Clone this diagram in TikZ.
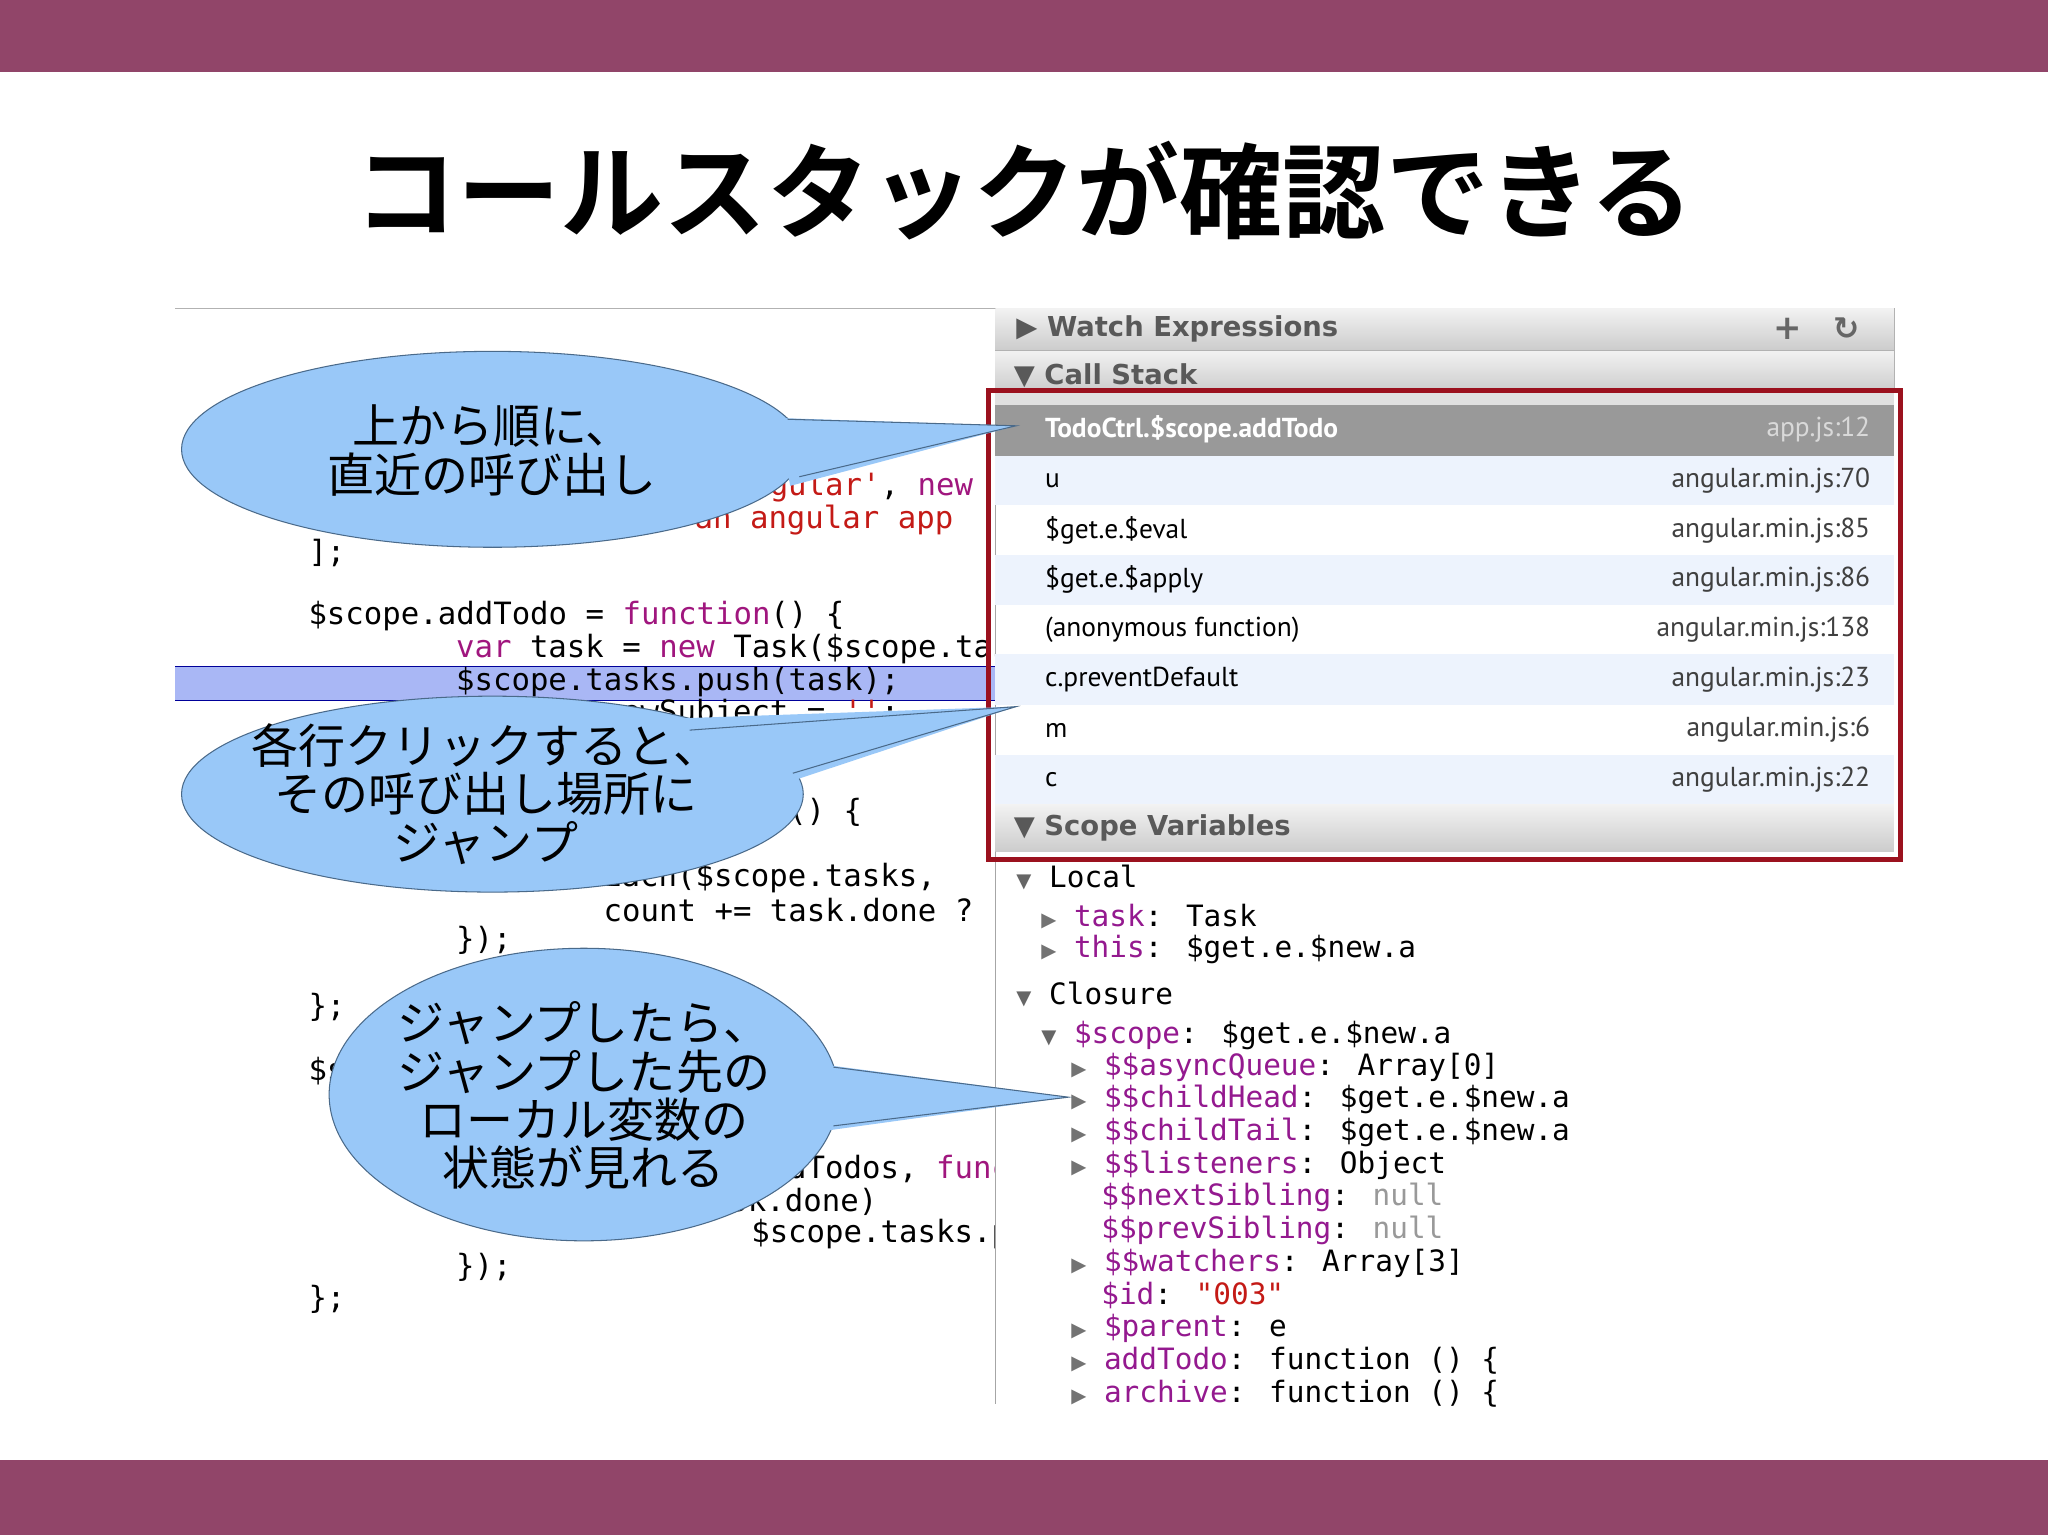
\documentclass[tikz,border=0pt]{standalone}
\usepackage{fontspec}
\newfontfamily\jpb{Noto Sans CJK JP Bold}
\newfontfamily\jp{Noto Sans CJK JP}
\newfontfamily\mono{DejaVu Sans Mono}
\newfontfamily\dsans{DejaVu Sans}
\newfontfamily\ptsans{PT Sans}
\newcommand\trifnt{\dsans\fontsize{15}{15}\selectfont}
\definecolor{bar}{HTML}{914569}
\definecolor{bub}{HTML}{99C8F8}
\definecolor{bubl}{HTML}{4A6A8A}
\definecolor{kw}{HTML}{A0167E}
\definecolor{str}{HTML}{C41A16}
\definecolor{key}{HTML}{94198F}
\definecolor{redbox}{HTML}{9B111E}
\definecolor{rowb}{HTML}{EDF3FD}
\definecolor{hl}{HTML}{A9B7F5}
\tikzset{
 code/.style={anchor=west,font=\mono\fontsize{23.5}{24}\selectfont,inner sep=0pt},
 stk/.style={anchor=west,font=\ptsans\fontsize{21}{24}\selectfont,inner sep=0pt},
 stkr/.style={anchor=east,font=\ptsans\fontsize{21}{24}\selectfont,inner sep=0pt,text=black!75},
 hdr/.style={anchor=west,font=\dsans\bfseries\fontsize{21}{24}\selectfont,inner sep=0pt,text=black!65},
 tree/.style={anchor=west,font=\mono\fontsize{22.5}{24}\selectfont,inner sep=0pt},
 bubtxt/.style={font=\jp\fontsize{36}{37}\selectfont,align=center,inner sep=0pt},
 bubble/.style={fill=bub,draw=bubl,line width=0.8pt},
}
\begin{document}
\begin{tikzpicture}[x=1pt,y=-1pt]
\useasboundingbox (0,0) rectangle (1568,1175);
\fill[white] (0,0) rectangle (1568,1175);
\fill[bar] (0,0) rectangle (1568,55);
\fill[bar] (0,1118) rectangle (1568,1175);
\node[font=\jpb\fontsize{79}{79}\selectfont] (title) at (784,146) {コールスタックが確認できる};

% code panel
\draw[black!30,line width=1pt] (134,236) -- (762,236);
\begin{scope}
\clip (134,237) rectangle (762,1075);
\fill[hl] (134,510) rectangle (762,536);
\draw[blue!60!black,line width=0.8pt] (134,510) -- (762,510) (134,536) -- (762,536);
\node[code] (c1) at (575,373) {\textcolor{str}{ngular'}, \textcolor{kw}{new}};
\node[code] (c2) at (475,398) {\textcolor{str}{ild an angular app}};
\node[code] (c3) at (236,423) {];};
\node[code] (c4) at (236,472) {\$scope.addTodo = \textcolor{kw}{function}() \{};
\node[code] (c5) at (349,497) {\textcolor{kw}{var} task = \textcolor{kw}{new} Task(\$scope.task};
\node[code] (c6) at (349,522) {\$scope.tasks.push(task);};
\node[code] (c7) at (462,547) {newSubject = \textcolor{str}{''};};
\node[code] (c8) at (575,622) {\textcolor{kw}{on}() \{};
\node[code] (c9) at (405,672) {.forEach(\$scope.tasks, };
\node[code] (c10) at (462,697) {count += task.done ? \textcolor{kw}{1}};
\node[code] (c11) at (349,720) {\});};
\node[code] (c12) at (236,771) {\};};
\node[code] (c13) at (236,821) {\$scope};
\node[code] (c14) at (575,895) {oldTodos, \textcolor{kw}{func}};
\node[code] (c15) at (530,920) {task.done)};
\node[code] (c16) at (575,945) {\$scope.tasks.push};
\node[code] (c17) at (349,970) {\});};
\node[code] (c18) at (236,995) {\};};
\end{scope}
\draw[black!35,line width=1pt] (762,236) -- (762,1075);

% devtools headers
\shade[top color=black!5,bottom color=black!20] (762,236) rectangle (1450,268);
\shade[top color=black!5,bottom color=black!20] (762,268) rectangle (1450,300);
\draw[black!30] (762,268) -- (1450,268) (1450,236) -- (1450,300);
\node[hdr] (we) at (778,252) {▶ Watch Expressions};
\node[font=\dsans\bfseries\fontsize{26}{26}\selectfont,text=black!60] (plus) at (1369,252) {+};
\node[font=\dsans\bfseries\fontsize{24}{24}\selectfont,text=black!60] (refr) at (1414,252) {↻};
\node[hdr] (cs) at (776,288) {▼ Call Stack};
\fill[black!12] (762,300) rectangle (1450,310);
% call stack rows
\fill[black!40] (762,310) rectangle (1450,349);
\node[stk,text=white,font=\ptsans\bfseries\fontsize{21}{24}\selectfont] (r0) at (800,329) {TodoCtrl.\$scope.addTodo};
\node[stkr,text=white!85!black] (f0) at (1432,329) {app.js:12};
\fill[rowb] (762,349) rectangle (1450,387);
\fill[rowb] (762,425) rectangle (1450,463);
\fill[rowb] (762,501) rectangle (1450,540);
\fill[rowb] (762,578) rectangle (1450,616);
\node[stk] (r1) at (800,368) {u};          \node[stkr] (f1) at (1432,368) {angular.min.js:70};
\node[stk] (r2) at (800,406) {\$get.e.\$eval};   \node[stkr] (f2) at (1432,406) {angular.min.js:85};
\node[stk] (r3) at (800,444) {\$get.e.\$apply};  \node[stkr] (f3) at (1432,444) {angular.min.js:86};
\node[stk] (r4) at (800,482) {(anonymous function)}; \node[stkr] (f4) at (1432,482) {angular.min.js:138};
\node[stk] (r5) at (800,520) {c.preventDefault}; \node[stkr] (f5) at (1432,520) {angular.min.js:23};
\node[stk] (r6) at (800,559) {m};          \node[stkr] (f6) at (1432,559) {angular.min.js:6};
\node[stk] (r7) at (800,597) {c};          \node[stkr] (f7) at (1432,597) {angular.min.js:22};
\shade[top color=black!5,bottom color=black!20] (762,616) rectangle (1450,652);
\node[hdr] (sv) at (776,634) {▼ Scope Variables};
\draw[redbox,line width=4pt] (757,299) rectangle (1455,658);

% scope tree
\node[tree] (t1) at (778,672) {{\trifnt\color{black!60}▼} Local};
\node[tree] (t2) at (797,702) {{\trifnt\color{black!55}▶} \textcolor{key}{task}: Task};
\node[tree] (t3) at (797,727) {{\trifnt\color{black!55}▶} \textcolor{key}{this}: \$get.e.\$new.a};
\node[tree] (t4) at (778,761) {{\trifnt\color{black!60}▼} Closure};
\node[tree] (t5) at (797,793) {{\trifnt\color{black!60}▼} \textcolor{key}{\$scope}: \$get.e.\$new.a};
\foreach \y/\k/\v in {817/\$\$asyncQueue/Array[0],842/\$\$childHead/\$get.e.\$new.a,867/\$\$childTail/\$get.e.\$new.a,892/\$\$listeners/Object,967/\$\$watchers/Array[3],1017/\$parent/e,1042/addTodo/function () \{,1067/archive/function () \{}
  \node[tree] at (820,\y) {{\trifnt\color{black!55}▶} \textcolor{key}{\k}: \v};
\node[tree] (t10) at (843,917) {\textcolor{key}{\$\$nextSibling}: \textcolor{black!40}{null}};
\node[tree] (t11) at (843,942) {\textcolor{key}{\$\$prevSibling}: \textcolor{black!40}{null}};
\node[tree] (t13) at (843,992) {\textcolor{key}{\$id}: \textcolor{str}{"003"}};

% bubbles
\coordinate (tip1) at (778,326);
\coordinate (tip2) at (778,541);
\coordinate (tip3) at (818,840);
\fill[bubble] (377,344) ellipse [x radius=238,y radius=75];
\fill[bub] (595,320) -- (tip1) -- (605,372) -- cycle;
\draw[bubl,line width=0.8pt] (603,321) -- (tip1) -- (612,365);
\node[bubtxt] (b1) at (377,345) {上から順に、\\直近の呼び出し};

\fill[bubble] (377,608) ellipse [x radius=238,y radius=75];
\fill[bub] (520,550) -- (tip2) -- (600,600) -- cycle;
\draw[bubl,line width=0.8pt] (528,559) -- (tip2) -- (607,592);
\node[bubtxt] (b2) at (372,608) {各行クリックすると、\\その呼び出し場所に\\ジャンプ};

\fill[bubble] (447,838) ellipse [x radius=195,y radius=112];
\fill[bub] (630,815) -- (tip3) -- (630,866) -- cycle;
\draw[bubl,line width=0.8pt] (638,817) -- (tip3) -- (638,862);
\node[bubtxt] (b3) at (447,839) {ジャンプしたら、\\ジャンプした先の\\ローカル変数の\\状態が見れる};
\end{tikzpicture}
\end{document}
